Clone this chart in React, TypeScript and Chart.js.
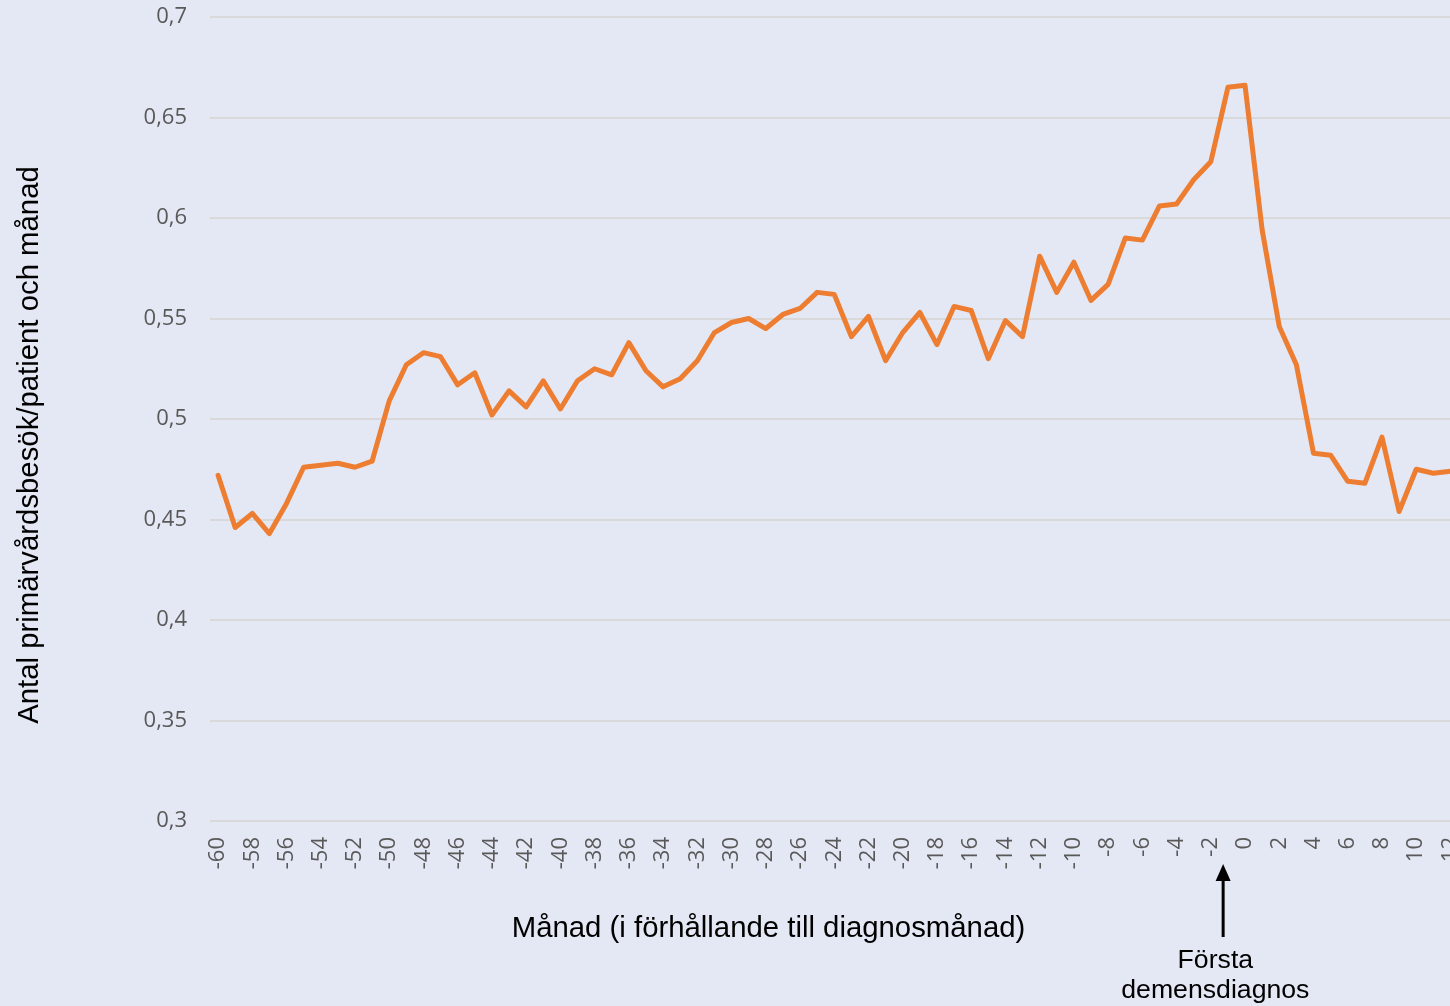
import React, { useEffect, useRef } from "react";
import { Chart, registerables } from "chart.js";

Chart.register(...registerables);

// Month relative to the diagnosis month (category axis)
const months = [
  -60, -59, -58, -57, -56, -55, -54, -53, -52, -51,
  -50, -49, -48, -47, -46, -45, -44, -43, -42, -41,
  -40, -39, -38, -37, -36, -35, -34, -33, -32, -31,
  -30, -29, -28, -27, -26, -25, -24, -23, -22, -21,
  -20, -19, -18, -17, -16, -15, -14, -13, -12, -11,
  -10, -9, -8, -7, -6, -5, -4, -3, -2, -1,
  0, 1, 2, 3, 4, 5, 6, 7, 8, 9,
  10, 11, 12,
];

// Primary care visits per patient and month
const visitsPerPatient = [
  0.472, 0.446, 0.453, 0.443, 0.458, 0.476, 0.477, 0.478, 0.476, 0.479,
  0.509, 0.527, 0.533, 0.531, 0.517, 0.523, 0.502, 0.514, 0.506, 0.519,
  0.505, 0.519, 0.525, 0.522, 0.538, 0.524, 0.516, 0.520, 0.529, 0.543,
  0.548, 0.550, 0.545, 0.552, 0.555, 0.563, 0.562, 0.541, 0.551, 0.529,
  0.543, 0.553, 0.537, 0.556, 0.554, 0.530, 0.549, 0.541, 0.581, 0.563,
  0.578, 0.559, 0.567, 0.590, 0.589, 0.606, 0.607, 0.619, 0.628, 0.665,
  0.666, 0.594, 0.546, 0.527, 0.483, 0.482, 0.469, 0.468, 0.491, 0.454,
  0.475, 0.473, 0.474,
];

const yTickMin = 0.3;
const yTickMax = 0.7;
const yTickStep = 0.05;

const yAxisTitle = "Antal primärvårdsbesök/patient och månad";
const xAxisTitle = "Månad (i förhållande till diagnosmånad)";
const annotationLines = ["Första", "demensdiagnos"];
const annotationMonth = -1.28;

const BG = "#e4e8f4";
const LINE = "#ED7D31";
const GRID = "#d9d9d9";
const TICK = "#595959";
const TICK_FONT = '"Open Sans", "Noto Sans", sans-serif';
const TITLE_FONT = '"Liberation Sans", Arial, sans-serif';

const textPlugin = {
  id: "customTexts",
  afterDraw(chart: any) {
    const ctx = chart.ctx as CanvasRenderingContext2D;
    const xs = chart.scales.x;

    // y-axis title
    ctx.save();
    ctx.fillStyle = "#000";
    ctx.font = `29.33px ${TITLE_FONT}`;
    ctx.translate(37.5, 445);
    ctx.rotate(-Math.PI / 2);
    ctx.textAlign = "center";
    ctx.textBaseline = "alphabetic";
    ctx.fillText(yAxisTitle, 0, 0);
    ctx.restore();

    // x-axis title
    ctx.save();
    ctx.fillStyle = "#000";
    ctx.font = `29.33px ${TITLE_FONT}`;
    ctx.textAlign = "center";
    ctx.textBaseline = "alphabetic";
    ctx.fillText(xAxisTitle, 768.5, 937);
    ctx.restore();

    // annotation arrow at first dementia diagnosis
    const base = Math.floor(annotationMonth);
    const frac = annotationMonth - base;
    const i = months.indexOf(base);
    const p0 = xs.getPixelForValue(i);
    const p1 = xs.getPixelForValue(i + 1);
    const ax = p0 + frac * (p1 - p0);

    ctx.save();
    ctx.strokeStyle = "#000";
    ctx.fillStyle = "#000";
    ctx.lineWidth = 3;
    ctx.beginPath();
    ctx.moveTo(ax, 878);
    ctx.lineTo(ax, 937);
    ctx.stroke();
    ctx.beginPath();
    ctx.moveTo(ax, 864);
    ctx.lineTo(ax - 7.5, 881);
    ctx.lineTo(ax + 7.5, 881);
    ctx.closePath();
    ctx.fill();

    ctx.font = `26.67px ${TITLE_FONT}`;
    ctx.textAlign = "center";
    ctx.textBaseline = "alphabetic";
    ctx.fillText(annotationLines[0], ax - 7.8, 968);
    ctx.fillText(annotationLines[1], ax - 7.8, 998);
    ctx.restore();
  },
};

export default function App() {
  const canvasRef = useRef<HTMLCanvasElement | null>(null);

  useEffect(() => {
    const canvas = canvasRef.current;
    if (!canvas) return;
    const chart = new Chart(canvas, {
      type: "line",
      data: {
        labels: months.map(String),
        datasets: [
          {
            data: visitsPerPatient,
            borderColor: LINE,
            backgroundColor: LINE,
            borderWidth: 5,
            pointRadius: 0,
            pointHoverRadius: 0,
            tension: 0,
            borderJoinStyle: "round",
            borderCapStyle: "round",
            fill: false,
          },
        ],
      },
      options: {
        responsive: false,
        animation: false,
        devicePixelRatio: 1,
        layout: { padding: { top: 17, left: 0, right: 0, bottom: 0 } },
        plugins: {
          legend: { display: false },
          tooltip: { enabled: false },
          title: { display: false },
        },
        scales: {
          x: {
            type: "category",
            offset: true,
            grid: { display: false, drawTicks: false },
            border: { display: false },
            ticks: {
              autoSkip: false,
              minRotation: 90,
              maxRotation: 90,
              padding: 16,
              color: TICK,
              font: { family: TICK_FONT, size: 22 },
              callback: (_v: any, idx: number) =>
                months[idx] % 2 === 0 ? String(months[idx]) : "",
            },
            afterFit: (scale: any) => {
              scale.height = 185;
              scale.paddingLeft = 0;
              scale.paddingRight = 0;
            },
          },
          y: {
            min: yTickMin,
            max: yTickMax,
            grid: { color: GRID, lineWidth: 2, drawTicks: false },
            border: { display: false },
            ticks: {
              stepSize: yTickStep,
              padding: 22.5,
              color: TICK,
              font: { family: TICK_FONT, size: 22 },
              callback: (v: any) =>
                String(Math.round(Number(v) * 100) / 100).replace(".", ","),
            },
            afterFit: (scale: any) => {
              scale.width = 209.5;
              scale.paddingTop = 0;
              scale.paddingBottom = 0;
            },
          },
        },
      },
      plugins: [textPlugin],
    });
    return () => chart.destroy();
  }, []);

  return (
    <div
      style={{
        position: "fixed",
        left: 0,
        top: 0,
        width: 1450,
        height: 1006,
        overflow: "hidden",
        background: BG,
      }}
    >
      <canvas
        ref={canvasRef}
        width={1459}
        height={1006}
        style={{ display: "block", width: 1459, height: 1006 }}
      />
    </div>
  );
}
